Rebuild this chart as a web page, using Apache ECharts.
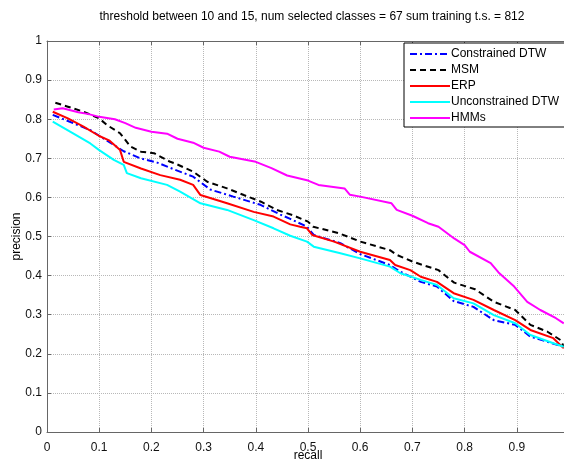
<!DOCTYPE html>
<html>
<head>
<meta charset="utf-8">
<script src="https://cdn.jsdelivr.net/npm/echarts@6/dist/echarts.min.js"></script>
<style>
  html, body { margin: 0; padding: 0; background: #fff; }
  #main { width: 564px; height: 462px; }
</style>
</head>
<body>
<div id="main"></div>
<script>
// values
var titleText = "threshold between 10 and 15, num selected classes = 67 sum training t.s. = 812";
var seriesNames = ["Constrained DTW", "MSM", "ERP", "Unconstrained DTW", "HMMs"];
var xTickLabels = ["0", "0.1", "0.2", "0.3", "0.4", "0.5", "0.6", "0.7", "0.8", "0.9", ""];
var yTickLabels = ["0", "0.1", "0.2", "0.3", "0.4", "0.5", "0.6", "0.7", "0.8", "0.9", "1"];

var cdtwRecall = [0.011, 0.05, 0.083, 0.115, 0.147, 0.179, 0.211, 0.243, 0.28, 0.313, 0.357, 0.409, 0.447, 0.466, 0.498, 0.511, 0.562, 0.6, 0.657, 0.677, 0.716, 0.747, 0.779, 0.817, 0.856, 0.897, 0.926, 0.958, 0.99];
var cdtwPrecision = [0.811, 0.79, 0.772, 0.745, 0.718, 0.7, 0.689, 0.672, 0.653, 0.62, 0.602, 0.581, 0.556, 0.545, 0.525, 0.504, 0.483, 0.455, 0.427, 0.41, 0.384, 0.372, 0.335, 0.32, 0.286, 0.274, 0.244, 0.231, 0.218];

var msmRecall = [0.016, 0.04, 0.07, 0.1, 0.115, 0.14, 0.15, 0.16, 0.18, 0.205, 0.236, 0.245, 0.28, 0.307, 0.345, 0.377, 0.41, 0.44, 0.47, 0.5, 0.51, 0.56, 0.6, 0.657, 0.67, 0.7, 0.72, 0.75, 0.78, 0.82, 0.856, 0.897, 0.926, 0.958, 0.984, 0.99];
var msmPrecision = [0.842, 0.832, 0.819, 0.802, 0.785, 0.764, 0.747, 0.73, 0.717, 0.713, 0.691, 0.687, 0.666, 0.64, 0.623, 0.606, 0.589, 0.568, 0.555, 0.538, 0.525, 0.508, 0.487, 0.465, 0.453, 0.436, 0.427, 0.414, 0.382, 0.365, 0.333, 0.312, 0.274, 0.257, 0.235, 0.218];

var erpRecall = [0.011, 0.04, 0.07, 0.1, 0.12, 0.14, 0.147, 0.18, 0.217, 0.255, 0.28, 0.294, 0.345, 0.396, 0.434, 0.466, 0.485, 0.498, 0.508, 0.55, 0.6, 0.657, 0.667, 0.696, 0.716, 0.747, 0.779, 0.817, 0.856, 0.897, 0.926, 0.97, 0.99];
var erpPrecision = [0.819, 0.802, 0.781, 0.757, 0.745, 0.721, 0.691, 0.674, 0.657, 0.645, 0.632, 0.606, 0.585, 0.563, 0.551, 0.531, 0.525, 0.521, 0.504, 0.487, 0.461, 0.44, 0.427, 0.414, 0.397, 0.384, 0.355, 0.338, 0.312, 0.286, 0.261, 0.24, 0.214];

var udtwRecall = [0.011, 0.05, 0.083, 0.1, 0.128, 0.147, 0.153, 0.18, 0.23, 0.255, 0.294, 0.345, 0.396, 0.434, 0.466, 0.498, 0.511, 0.562, 0.6, 0.657, 0.677, 0.716, 0.747, 0.779, 0.817, 0.856, 0.897, 0.926, 0.97, 0.99];
var udtwPrecision = [0.794, 0.764, 0.738, 0.721, 0.696, 0.683, 0.662, 0.649, 0.632, 0.615, 0.585, 0.568, 0.542, 0.521, 0.502, 0.487, 0.474, 0.457, 0.444, 0.423, 0.406, 0.389, 0.376, 0.342, 0.329, 0.299, 0.278, 0.248, 0.227, 0.218];

var hmmRecall = [0.013, 0.03, 0.06, 0.08, 0.1, 0.13, 0.15, 0.17, 0.2, 0.23, 0.25, 0.28, 0.3, 0.33, 0.35, 0.4, 0.43, 0.46, 0.5, 0.52, 0.57, 0.58, 0.6, 0.66, 0.67, 0.7, 0.73, 0.75, 0.78, 0.8, 0.81, 0.85, 0.865, 0.895, 0.92, 0.945, 0.975, 0.99];
var hmmPrecision = [0.825, 0.828, 0.818, 0.813, 0.806, 0.8, 0.79, 0.778, 0.768, 0.763, 0.75, 0.74, 0.727, 0.717, 0.704, 0.691, 0.675, 0.656, 0.643, 0.632, 0.623, 0.607, 0.602, 0.585, 0.568, 0.553, 0.534, 0.525, 0.495, 0.478, 0.461, 0.432, 0.408, 0.372, 0.333, 0.312, 0.291, 0.278];

function zip(xs, ys) {
  return xs.map(function (x, i) { return [x, ys[i]]; });
}

var font = "Liberation Sans, Arial, sans-serif";
var chart = echarts.init(document.getElementById("main"));

function xFmt(v) { return xTickLabels[Math.round(v * 10)] || ""; }
function yFmt(v) { return yTickLabels[Math.round(v * 10)] || ""; }

var option = {
  backgroundColor: "#fff",
  animation: false,
  title: {
    text: titleText,
    left: 307,
    top: 6,
    textAlign: "center",
    textStyle: { fontFamily: font, fontSize: 12, fontWeight: "normal", color: "#000" }
  },
  legend: {
    orient: "vertical",
    left: 404,
    top: 43,
    itemWidth: 40,
    itemHeight: 10,
    itemGap: 4,
    padding: [5, 6, 3, 5],
    backgroundColor: "#fff",
    borderColor: "#000",
    borderWidth: 1,
    borderRadius: 0,
    itemStyle: { opacity: 0 },
    textStyle: { fontFamily: font, fontSize: 12, color: "#000", padding: [0, 0, 0, -4] },
    data: seriesNames
  },
  grid: { left: 47, right: -5, top: 41, bottom: 30, outerBoundsMode: "none", containLabel: false },
  xAxis: [{
    type: "value",
    min: 0, max: 1, interval: 0.1,
    name: "recall",
    nameLocation: "middle",
    nameGap: 18,
    nameMoveOverlap: false,
    nameTextStyle: { fontFamily: font, fontSize: 12, color: "#000" },
    axisLine: { lineStyle: { color: "#666" } },
    axisTick: { inside: true, length: 4, lineStyle: { color: "#666" } },
    axisLabel: { fontFamily: font, fontSize: 12, color: "#111", margin: 10, formatter: xFmt },
    splitLine: { show: true, lineStyle: { color: "#b8b8b8", type: "dotted" } }
  }, {
    type: "value",
    position: "top",
    min: 0, max: 1, interval: 0.1,
    axisLine: { lineStyle: { color: "#666" } },
    axisTick: { inside: true, length: 4, lineStyle: { color: "#666" } },
    axisLabel: { show: false },
    splitLine: { show: false }
  }],
  yAxis: {
    type: "value",
    min: 0, max: 1, interval: 0.1,
    name: "precision",
    nameLocation: "middle",
    nameGap: 24,
    nameMoveOverlap: false,
    nameTextStyle: { fontFamily: font, fontSize: 12, color: "#000" },
    axisLine: { show: true, lineStyle: { color: "#666" } },
    axisTick: { show: true, inside: true, length: 4, lineStyle: { color: "#666" } },
    axisLabel: { fontFamily: font, fontSize: 12, color: "#111", margin: 5, formatter: yFmt },
    splitLine: { show: true, lineStyle: { color: "#b8b8b8", type: "dotted" } }
  },
  series: [
    {
      name: seriesNames[0], type: "line", symbol: "none",
      data: zip(cdtwRecall, cdtwPrecision),
      lineStyle: { color: "#0000ff", width: 2, type: [7, 3, 2, 3] },
      itemStyle: { color: "#0000ff" }
    },
    {
      name: seriesNames[1], type: "line", symbol: "none",
      data: zip(msmRecall, msmPrecision),
      lineStyle: { color: "#000", width: 2, type: [6, 4] },
      itemStyle: { color: "#000" }
    },
    {
      name: seriesNames[2], type: "line", symbol: "none",
      data: zip(erpRecall, erpPrecision),
      lineStyle: { color: "#ff0000", width: 2 },
      itemStyle: { color: "#ff0000" }
    },
    {
      name: seriesNames[3], type: "line", symbol: "none",
      data: zip(udtwRecall, udtwPrecision),
      lineStyle: { color: "#00ffff", width: 2 },
      itemStyle: { color: "#00ffff" }
    },
    {
      name: seriesNames[4], type: "line", symbol: "none",
      data: zip(hmmRecall, hmmPrecision),
      lineStyle: { color: "#ff00ff", width: 2 },
      itemStyle: { color: "#ff00ff" }
    }
  ]
};
chart.setOption(option);
</script>
</body>
</html>
